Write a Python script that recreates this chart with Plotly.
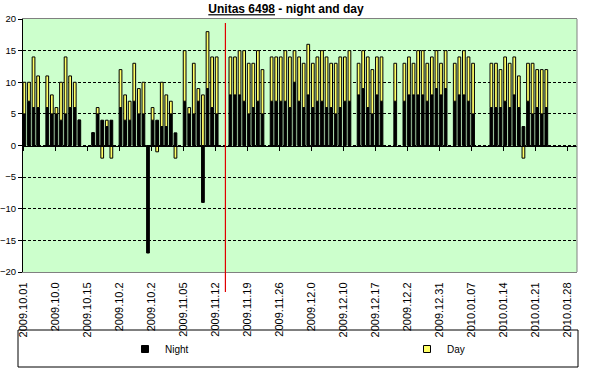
import pandas as pd
import plotly.graph_objects as go

# ---------------- data ----------------
start_date = "2009-10-01"
end_date = "2010-01-28"
marker_date = "2009-11-14 05:00"   # red vertical marker

night = [5, 7, 6, 6, None, 6, 5, 5, 4, 5, 6, 6, 4, None, None, 2, 5, 4, 3, 4,
         None, 6, 4, 4, 7, 5, 5, -17, 4, 4, 3, 3, 5, 2, None, 7, 5, 5, 7, -9,
         9, 6, 5, None, None, 8, 8, 8, 7, 5, 6, 7, 5, None, 7, 7, 7, 7, 6, 10,
         7, 6, 8, 6, 7, 7, 6, 6, 5, 6, 7, 7, None, 8, 9, 6, 5, 8, 7, None,
         None, 7, None, 7, 8, 8, 8, 8, 7, 8, 9, 8, 9, None, 7, 8, 8, 7, 5, None,
         None, None, 6, 6, 6, 7, 6, 8, 6, 3, 7, 5, 6, 5, 6, None, None, None, None, None]

day = [5, 3, 8, 5, None, 5, 3, 1, 6, 9, 5, 4, 0, None, None, 0, 1, -2, 1, -2,
       None, 6, 4, 3, 6, 4, 5, 0, 2, -1, 7, 5, 2, -2, None, 8, 1, 8, 2, 8,
       9, 8, 9, None, None, 6, 6, 7, 8, 8, 7, 8, 7, None, 7, 7, 7, 8, 8, 5,
       7, 7, 8, 7, 7, 8, 8, 7, 8, 8, 7, 8, None, 5, 6, 8, 7, 6, 7, None,
       None, 6, None, 6, 6, 5, 7, 7, 6, 6, 6, 5, 6, None, 6, 6, 7, 7, 8, None,
       None, None, 7, 7, 6, 7, 7, 6, 5, -2, 6, 8, 6, 7, 6, None, None, None, None, None]

tick_labels = ["2009.10.01", "2009.10.0", "2009.10.15", "2009.10.2", "2009.10.2",
               "2009.11.05", "2009.11.12", "2009.11.19", "2009.11.26", "2009.12.0",
               "2009.12.10", "2009.12.17", "2009.12.2", "2009.12.31", "2010.01.07",
               "2010.01.14", "2010.01.21", "2010.01.28"]

series_names = ["Night", "Day"]
y_ticks = [-20, -15, -10, -5, 0, 5, 10, 15, 20]

# ---------------- layout helpers ----------------
W, H = 590, 375
ML, MR, MT, MB = 23, 13, 19, 103
PW, PH = W - ML - MR, H - MT - MB


def px_x(p):
    return (p - ML) / PW


def px_y(p):
    return (H - MB - p) / PH


dates = pd.date_range(start_date, end_date, freq="D")
tick_vals = pd.date_range(start_date, periods=len(tick_labels), freq="7D")
x_range = [dates[0], dates[-1] + pd.Timedelta(days=2)]
DAY_MS = 86400000
bar_w = 0.6 * DAY_MS

FONT = "Liberation Sans, Arial, sans-serif"
night_color = "#000000"
day_color = "#FFFF66"

fig = go.Figure()
fig.add_trace(go.Bar(x=dates, y=night, name=series_names[0], width=bar_w, offset=0,
                     marker=dict(color=night_color, line=dict(color="black", width=1)),
                     showlegend=False))
fig.add_trace(go.Bar(x=dates, y=day, name=series_names[1], width=bar_w, offset=0,
                     marker=dict(color=day_color, line=dict(color="black", width=1)),
                     showlegend=False))
# legend entries (small square keys), one per legend box position
fig.add_trace(go.Scatter(x=[None], y=[None], mode="markers", name=series_names[0], xaxis="x2",
                         legend="legend",
                         marker=dict(symbol="square", size=7, color=night_color,
                                     line=dict(color="black", width=1))))
fig.add_trace(go.Scatter(x=[None], y=[None], mode="markers", name=series_names[1], xaxis="x2",
                         legend="legend2",
                         marker=dict(symbol="square", size=7, color=day_color,
                                     line=dict(color="black", width=1))))

legend_style = dict(orientation="h", xanchor="left", yanchor="middle", y=px_y(349),
                    bgcolor="rgba(0,0,0,0)", font=dict(family=FONT, size=10),
                    borderwidth=0, itemclick=False, itemdoubleclick=False)

fig.update_layout(
    width=W, height=H,
    margin=dict(l=ML, r=MR, t=MT, b=MB, autoexpand=False),
    paper_bgcolor="white",
    plot_bgcolor="#CCFFCC",
    barmode="relative",
    font=dict(family=FONT, size=10, color="black"),
    title=dict(text='<b><span style="text-decoration:underline">Unitas 6498</span> - night and day</b>',
               x=286 / W, xref="container", xanchor="center",
               y=1 - 9 / H, yref="container", yanchor="middle",
               font=dict(family=FONT, size=12, color="black")),
    xaxis=dict(type="date", range=x_range, tickvals=tick_vals, ticktext=tick_labels,
               tickangle=-90, tickfont=dict(size=11), ticks="outside", ticklen=5,
               tickcolor="rgba(0,0,0,0)", showgrid=False, zeroline=False,
               showline=True, mirror=True, linecolor="#808080", linewidth=1,
               automargin=False, fixedrange=True),
    xaxis2=dict(type="date", range=x_range, overlaying="x", anchor="free", position=0.5,
                tickvals=tick_vals, showticklabels=False, ticks="outside", ticklen=4,
                tickcolor="black", showline=True, linecolor="black", linewidth=1,
                showgrid=False, zeroline=False),
    yaxis=dict(range=[-20, 20], tickvals=y_ticks, tickfont=dict(size=9.5),
               ticks="outside", ticklen=4, tickcolor="black",
               showgrid=True, gridcolor="black", gridwidth=1, griddash="3px,2px",
               zeroline=False, showline=True, linecolor="black", linewidth=1,
               automargin=False),
    showlegend=True,
    legend=dict(x=px_x(125), **legend_style),
    legend2=dict(x=px_x(407), **legend_style),
    shapes=[
        dict(type="line", xref="paper", yref="paper", x0=1, x1=1, y0=0, y1=1,
             line=dict(color="#808080", width=1)),
        dict(type="line", xref="x", yref="paper", x0=marker_date, x1=marker_date,
             y0=px_y(23), y1=px_y(292), line=dict(color="#E00000", width=1.2), layer="above"),
        dict(type="rect", xref="paper", yref="paper", x0=px_x(18), x1=px_x(578),
             y0=px_y(367), y1=px_y(330), line=dict(color="black", width=1),
             fillcolor="rgba(0,0,0,0)"),
    ],
)

# remove the browser's default 8px page margin so the figure sits at the window origin
fig.write_html("out.html", config={"displayModeBar": False},
               post_script="document.body.style.margin='0';")
